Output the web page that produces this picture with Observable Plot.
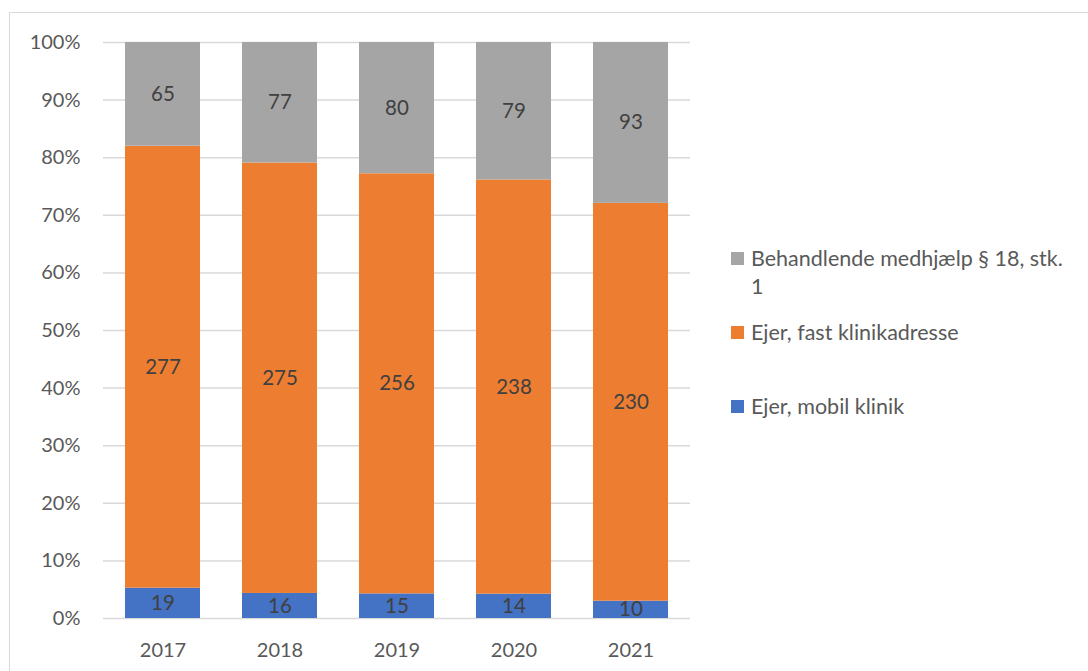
<!DOCTYPE html>
<html>
<head>
<meta charset="utf-8">
<script src="https://cdn.jsdelivr.net/npm/d3@7"></script>
<script src="https://cdn.jsdelivr.net/npm/@observablehq/plot@0.6"></script>
<style>
  html, body { margin: 0; padding: 0; background: #fff; }
  #wrap { position: relative; width: 1088px; height: 671px; overflow: hidden; font-family: Lato, "Open Sans", sans-serif; }
  #frame { position: absolute; left: 9px; top: 12px; width: 1200px; height: 800px; border: 1.5px solid #d9d9d9; box-sizing: border-box; }
  #chart { position: absolute; left: 0; top: 0; }
  .leg { position: absolute; left: 731px; font-size: 21.5px; line-height: 28px; color: #595959; display: flex; align-items: flex-start; }
  .leg .sw { width: 13px; height: 13px; margin-top: 8px; margin-right: 7px; flex: none; }
  .leg .tx { width: 320px; }
</style>
</head>
<body>
<div id="wrap">
  <div id="frame"></div>
  <div id="chart"></div>
</div>
<script>
const years = ["2017", "2018", "2019", "2020", "2021"];
const series = ["Ejer, mobil klinik", "Ejer, fast klinikadresse", "Behandlende medhjælp § 18, stk. 1"];
const mobil = [19, 16, 15, 14, 10];
const fast = [277, 275, 256, 238, 230];
const medhjaelp = [65, 77, 80, 79, 93];
const colors = ["#4472c4", "#ed7d31", "#a5a5a5"];
const yTicks = [0, 0.1, 0.2, 0.3, 0.4, 0.5, 0.6, 0.7, 0.8, 0.9, 1];

const values = [mobil, fast, medhjaelp];
const data = [];
years.forEach((y, i) => series.forEach((s, k) => data.push({year: y, series: s, value: values[k][i]})));

const stackOpts = {x: "year", y: "value", z: "series", order: series, offset: "normalize"};

const chart = Plot.plot({
  width: 1088,
  height: 671,
  marginLeft: 103,
  marginRight: 398,
  marginTop: 42,
  marginBottom: 53,
  style: {fontFamily: "Lato, 'Open Sans', sans-serif", fontSize: "20px", color: "#595959", background: "transparent"},
  x: {domain: years, paddingInner: 0.36, paddingOuter: 0.18, label: null, tickSize: 0, tickPadding: 24},
  y: {domain: [0, 1], ticks: yTicks, tickFormat: d => Math.round(d * 100) + "%", label: null, tickSize: 0, tickPadding: 23},
  color: {domain: series, range: colors},
  marks: [
    Plot.ruleY(yTicks, {stroke: "#d9d9d9", strokeWidth: 1.5}),
    Plot.barY(data, Plot.stackY({...stackOpts, fill: "series"})),
    Plot.text(data, Plot.stackY({...stackOpts, text: "value", fill: "#404040", fontSize: 20.5}))
  ]
});
document.getElementById("chart").appendChild(chart);

const wrap = document.getElementById("wrap");
const legendOrder = [2, 1, 0];
const legendTops = [244, 318, 392];
legendOrder.forEach((k, j) => {
  const item = document.createElement("div");
  item.className = "leg";
  item.style.top = legendTops[j] + "px";
  const sw = document.createElement("div");
  sw.className = "sw";
  sw.style.background = colors[k];
  const tx = document.createElement("div");
  tx.className = "tx";
  tx.textContent = series[k];
  item.appendChild(sw);
  item.appendChild(tx);
  wrap.appendChild(item);
});
</script>
</body>
</html>
